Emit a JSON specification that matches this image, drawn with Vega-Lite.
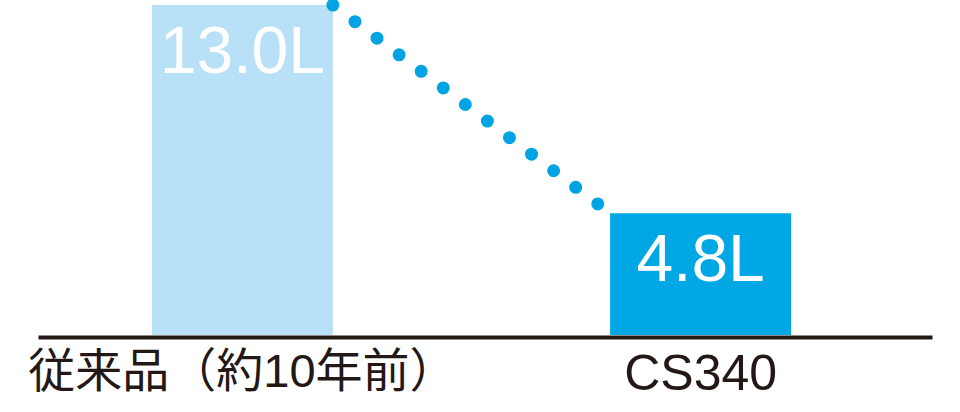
{
  "$schema": "https://vega.github.io/schema/vega-lite/v6.json",
  "width": 894,
  "height": 335,
  "autosize": {"type": "none"},
  "padding": {"left": 38, "right": 28, "top": 0, "bottom": 77},
  "background": "#ffffff",
  "config": {
    "view": {"stroke": null},
    "axisX": {
      "labelAngle": 0,
      "labelFont": "'Liberation Sans', 'Noto Sans CJK JP'",
      "labelFontSize": {"expr": "datum.value == 'CS340' ? 50 : 47"},
      "labelColor": "#231815",
      "labelPadding": 12,
      "labelLimit": 0,
      "labelOverlap": false,
      "ticks": false,
      "grid": false,
      "domainColor": "#231815",
      "domainWidth": 4,
      "offset": 2
    }
  },
  "datasets": {
    "bars": [
      {"product": "従来品（約10年前）", "value": 13.0, "label": "13.0L"},
      {"product": "CS340", "value": 4.8, "label": "4.8L"}
    ],
    "connector": [
      {"from": "従来品（約10年前）", "to": "CS340", "fromValue": 13.0, "toValue": 4.8}
    ]
  },
  "layer": [
    {
      "data": {"name": "bars"},
      "mark": {"type": "bar"},
      "encoding": {
        "x": {
          "field": "product",
          "type": "nominal",
          "sort": null,
          "title": null,
          "scale": {"paddingInner": 0.605, "paddingOuter": 0.278, "align": 0.447}
        },
        "y": {
          "field": "value",
          "type": "quantitative",
          "scale": {"domain": [0, 13.2], "nice": false},
          "axis": null
        },
        "color": {
          "field": "product",
          "type": "nominal",
          "scale": {"domain": ["従来品（約10年前）", "CS340"], "range": ["#b8e0f7", "#00a7e5"]},
          "legend": null
        }
      }
    },
    {
      "data": {"name": "connector"},
      "mark": {
        "type": "rule",
        "stroke": "#00a3e4",
        "strokeWidth": 13,
        "strokeCap": "round",
        "strokeDash": [0, 27.6]
      },
      "encoding": {
        "x": {"field": "from", "type": "nominal", "sort": null, "bandPosition": 1, "title": null},
        "x2": {"field": "to", "bandPosition": 0},
        "y": {"field": "fromValue", "type": "quantitative", "axis": null},
        "y2": {"field": "toValue"}
      }
    },
    {
      "data": {"name": "bars"},
      "mark": {
        "type": "text",
        "align": "center",
        "baseline": "alphabetic",
        "dy": 68,
        "font": "Liberation Sans",
        "fontSize": 66,
        "fill": "#ffffff"
      },
      "encoding": {
        "x": {"field": "product", "type": "nominal", "sort": null, "title": null},
        "y": {"field": "value", "type": "quantitative", "axis": null},
        "text": {"field": "label"}
      }
    }
  ]
}
